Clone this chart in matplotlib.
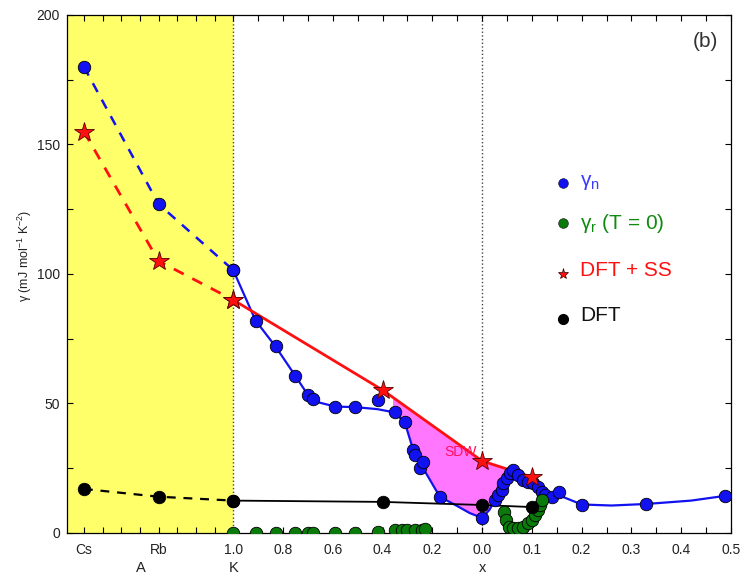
import numpy as np
import matplotlib
matplotlib.use('Agg')
import matplotlib.pyplot as plt
from matplotlib.ticker import FixedLocator
import matplotlib.transforms as mtransforms

plt.rcParams['font.family'] = ['Liberation Sans', 'DejaVu Sans']
plt.rcParams['mathtext.fontset'] = 'custom'
plt.rcParams['mathtext.rm'] = 'Liberation Sans'
plt.rcParams['mathtext.it'] = 'Liberation Sans'

# A = Cs, Rb, K end members
a_labels = ['Cs', 'Rb']
gn_a = [180, 127, 101.5]
dftss_a = [155, 105, 90]
dft_a = [17, 14, 12.5]

# K content series (measured gamma_n)
k_n = [1.0, 0.91, 0.83, 0.75, 0.70, 0.68, 0.59, 0.51, 0.42, 0.35, 0.31, 0.277, 0.27, 0.25, 0.237, 0.17]
gn_k = [101.5, 82, 72, 60.6, 53.3, 51.8, 48.8, 48.8, 51.5, 46.7, 42.9, 32, 30.1, 25.1, 27.4, 14]

# x series (measured gamma_n)
x_n = [0.0, 0.026, 0.032, 0.04, 0.042, 0.05, 0.056, 0.062, 0.072, 0.082, 0.092, 0.102,
       0.112, 0.12, 0.126, 0.14, 0.155, 0.2, 0.33, 0.487]
gn_x = [5.8, 12.7, 14.7, 16.6, 19.3, 21.2, 23.2, 24.3, 22.4, 20.5, 19.7, 19.3,
        17.8, 15.8, 14.5, 13.9, 15.8, 10.8, 11.2, 14.3]

# guide-to-the-eye line for gamma_n
fit_k = [1.0, 0.91, 0.83, 0.75, 0.70, 0.66, 0.59, 0.51, 0.42, 0.35, 0.31, 0.275, 0.24, 0.17, 0.10, 0.05, 0.0]
fit_gk = [101.5, 82, 72, 60.6, 53.3, 50.5, 48.8, 48.6, 47.8, 46.5, 42.5, 31.5, 25.5, 14, 10.4, 7.7, 5.8]
fit_x = [0.015, 0.026, 0.04, 0.05, 0.062, 0.072, 0.092, 0.112, 0.126, 0.14, 0.155, 0.2, 0.26, 0.33, 0.42, 0.487]
fit_gx = [9.0, 12.7, 16.6, 21.2, 24.3, 22.4, 19.7, 17.8, 15.0, 14.2, 14.5, 11.0, 10.6, 11.2, 12.5, 14.3]

# gamma_r (T = 0)
k_r = [1.0, 0.91, 0.83, 0.75, 0.70, 0.68, 0.59, 0.51, 0.42, 0.35, 0.32, 0.30, 0.27, 0.24, 0.23]
gr_k = [0, 0, 0, 0, 0, 0, 0, 0, 0.4, 1.2, 1.2, 1.2, 1.2, 1.2, 1.5]
x_r = [0.044, 0.048, 0.054, 0.062, 0.072, 0.082, 0.092, 0.1, 0.106, 0.112, 0.116, 0.12]
gr_x = [8.1, 5.0, 2.3, 1.9, 1.9, 2.3, 3.9, 5.0, 6.9, 8.9, 10.8, 12.7]

# calculations at K = 1.0, 0.4 and x = 0.0, 0.1
calc_k = [1.0, 0.4]
calc_x = [0.0, 0.1]
dftss_kx = [90, 55.2, 27.8, 21.6]
dft_kx = [12.5, 12.0, 10.8, 10.0]

# position on the composite axis
a_pos = np.array([-0.6, -0.3, 0.0])
def uk(k):
    return 1.0 - np.asarray(k, dtype=float)
def ux(x):
    return 1.0 + 2.0 * np.asarray(x, dtype=float)

BLUE = '#1212f0'
GREEN = '#0a7a0a'
RED = '#ff1010'

fig = plt.figure(figsize=(7.44, 5.76), dpi=100)
ax = fig.add_axes([0.090, 0.0747, 0.8925, 0.8993])
ax.set_xlim(-0.668, 2.0)
ax.set_ylim(0, 200)

ax.axvspan(-0.668, 0.0, color='#ffff6a', zorder=0, lw=0)
ax.axvline(0.0, color='#444444', ls=':', lw=1.0, zorder=1)
ax.axvline(1.0, color='#444444', ls=':', lw=1.0, zorder=1)

# dashed guides in A region
for vals, col, lw in [(gn_a, BLUE, 1.8), (dftss_a, RED, 2.0), (dft_a, 'black', 1.6)]:
    ax.plot(a_pos, vals, color=col, lw=lw, ls=(0, (4, 3.5)), zorder=2)

# SDW region between DFT+SS and gamma_n
u_calc = np.concatenate([uk(calc_k), ux(calc_x)])
u_fit = np.concatenate([uk(fit_k), ux(fit_x)])
g_fit = np.concatenate([fit_gk, fit_gx])
peak = int(np.argmax(u_fit == ux(0.062)))
uu = np.linspace(0.64, u_fit[peak], 300)
red_u = np.interp(uu, u_calc, dftss_kx)
blue_u = np.interp(uu, u_fit[:peak + 1], g_fit[:peak + 1])
ax.fill_between(uu, blue_u, red_u, where=red_u > blue_u, color='#ff77ff', lw=0, zorder=1)

ax.plot(u_fit, g_fit, color=BLUE, lw=1.6, zorder=3)
ax.plot(u_calc, dftss_kx, color=RED, lw=2.0, zorder=3)
ax.plot(u_calc, dft_kx, color='black', lw=1.3, zorder=3)
ax.plot(ux(x_r), gr_x, color=GREEN, lw=1.0, zorder=3)

mk = dict(ls='none', marker='o', ms=9, mec='black', mew=0.6)
ax.plot(a_pos, gn_a, color=BLUE, zorder=4, **mk)
ax.plot(uk(k_n), gn_k, color=BLUE, zorder=4, **mk)
ax.plot(ux(x_n), gn_x, color=BLUE, zorder=4, **mk)
ax.plot(uk(k_r), gr_k, color=GREEN, zorder=4, **mk)
ax.plot(ux(x_r), gr_x, color=GREEN, zorder=4, **mk)
ax.plot(a_pos, dft_a, color='black', zorder=5, **mk)
ax.plot(u_calc, dft_kx, color='black', zorder=5, **mk)
st = dict(ls='none', marker='*', ms=15, color=RED, mec='#550000', mew=0.6, zorder=6)
ax.plot(a_pos, dftss_a, **st)
ax.plot(u_calc, dftss_kx, **st)

ax.text(0.912, 31.3, 'SDW', color='#ff1060', fontsize=10, ha='center', va='center', zorder=7)

# ticks
major = list(a_pos[:2]) + list(uk([1.0, 0.8, 0.6, 0.4, 0.2, 0.0])) + list(ux([0.1, 0.2, 0.3, 0.4, 0.5]))
labels = a_labels + ['1.0', '0.8', '0.6', '0.4', '0.2', '0.0', '0.1', '0.2', '0.3', '0.4', '0.5']
minor = list(np.arange(-0.6, 0.0, 0.075)) + list(np.arange(0.0, 2.001, 0.1))
ax.xaxis.set_major_locator(FixedLocator(major))
ax.set_xticklabels(labels)
ax.xaxis.set_minor_locator(FixedLocator(minor))
ax.set_yticks([0, 50, 100, 150, 200])
ax.yaxis.set_minor_locator(FixedLocator([25, 75, 125, 175]))
ax.tick_params(which='both', direction='in', top=True, right=True, length=4,
               width=0.8, labelsize=10, labelcolor='#222222')
ax.tick_params(axis='x', pad=7)
ax.tick_params(axis='y', pad=5)
for s in ax.spines.values():
    s.set_linewidth(0.9)

trans = mtransforms.blended_transform_factory(ax.transData, ax.transAxes)
for u, t in [(-0.37, 'A'), (0.0, 'K'), (1.0, 'x')]:
    ax.text(u, -0.068, t, transform=trans, ha='center', va='center', fontsize=10.5, color='#222222')

fig.text(0.034, 0.555, 'γ (mJ mol$^{-1}$ K$^{-2}$)', rotation=90, ha='center', va='center',
         fontsize=9, color='#222222')
ax.text(0.961, 0.948, '(b)', transform=ax.transAxes, ha='center', va='center',
        fontsize=15, color='#333333')

# legend
lx, tx = 0.747, 0.773
ax.plot([lx], [0.676], transform=ax.transAxes, marker='o', ms=7, color=BLUE, mec='#111', mew=0.4)
ax.text(tx, 0.676, 'γ$_\\mathregular{n}$', transform=ax.transAxes, va='center', fontsize=15, color='#3a3aff')
ax.plot([lx], [0.598], transform=ax.transAxes, marker='o', ms=7, color=GREEN, mec='#111', mew=0.4)
ax.text(tx, 0.598, 'γ$_\\mathregular{r}$ (T = 0)', transform=ax.transAxes, va='center', fontsize=15, color='#108a10')
ax.plot([lx], [0.500], transform=ax.transAxes, marker='*', ms=8, color=RED, mec='#330000', mew=0.5)
ax.text(tx, 0.506, 'DFT + SS', transform=ax.transAxes, va='center', fontsize=15, color=RED)
ax.plot([lx], [0.413], transform=ax.transAxes, marker='o', ms=7, color='black')
ax.text(tx, 0.420, 'DFT', transform=ax.transAxes, va='center', fontsize=15, color='#111111')

fig.savefig('out.png', dpi=100)
